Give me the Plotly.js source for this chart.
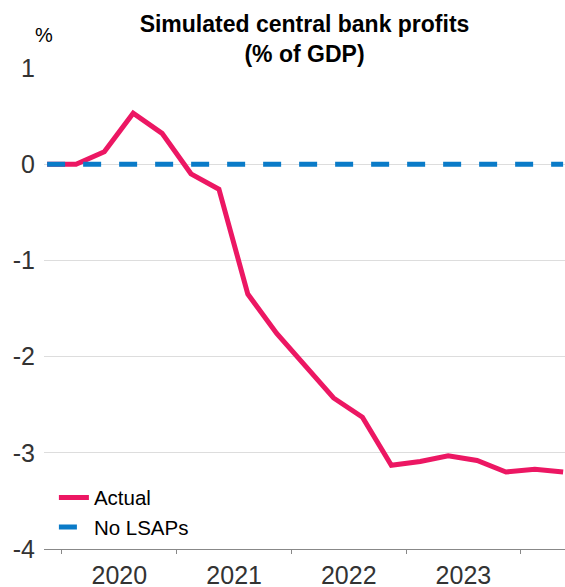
<!DOCTYPE html>
<html>
<head>
<meta charset="utf-8">
<script src="https://cdn.plot.ly/plotly-3.0.1.min.js"></script>
<style>html,body{margin:0;padding:0;background:#fff;}#chart{width:565px;height:587px;}</style>
</head>
<body>
<div id="chart"></div>
<script>
// Quarterly observations (mid-quarter dates), 2019 Q4 to 2024 Q2
const quarters = ["2019-11-15","2020-02-15","2020-05-15","2020-08-15","2020-11-15",
  "2021-02-15","2021-05-15","2021-08-15","2021-11-15",
  "2022-02-15","2022-05-15","2022-08-15","2022-11-15",
  "2023-02-15","2023-05-15","2023-08-15","2023-11-15",
  "2024-02-15","2024-05-15"];
const actual = [0, 0.0, 0.13, 0.53, 0.32, -0.10, -0.26, -1.35, -1.76, -2.10, -2.43, -2.63,
  -3.13, -3.09, -3.03, -3.08, -3.20, -3.17, -3.20];
const noLSAPs = [0,0,0,0,0,0,0,0,0,0,0,0,0,0,0,0,0,0,0];
const yTicks = [1, 0, -1, -2, -3, -4];
const firstYearTick = "2020-01-01";

const FONT = "Liberation Sans, Arial, sans-serif";

const traces = [
  {x: quarters, y: actual, name: "Actual", type: "scatter", mode: "lines",
   line: {color: "#EC1763", width: 5}},
  {x: quarters, y: noLSAPs, name: "No LSAPs", type: "scatter", mode: "lines",
   line: {color: "#0A7BC8", width: 5, dash: "18px,18px"}}
];

const layout = {
  width: 565, height: 587,
  margin: {l: 44, r: 0, t: 68, b: 38},
  paper_bgcolor: "#fff", plot_bgcolor: "#fff",
  font: {family: FONT, color: "#333"},
  title: {text: "<b>Simulated central bank profits<br>(% of GDP)</b>",
    font: {family: FONT, size: 23, color: "#000"},
    xref: "paper", x: 0.5, xanchor: "center",
    yref: "container", y: 0.946, yanchor: "top"},
  showlegend: true,
  legend: {x: 0.019, y: 0.003, xanchor: "left", yanchor: "bottom",
    bgcolor: "rgba(0,0,0,0)", font: {family: FONT, size: 20.5, color: "#000"},
    tracegroupgap: 0, itemwidth: 30},
  xaxis: {type: "date", range: ["2019-11-05", "2024-05-21"],
    tick0: firstYearTick, dtick: "M12", tickformat: "%Y", ticklabelmode: "period",
    showgrid: false, zeroline: false,
    showline: true, linecolor: "#888", linewidth: 1,
    ticks: "outside", ticklen: 4, tickcolor: "#888",
    tickfont: {family: FONT, size: 25, color: "#333"},
    ticklabelstandoff: 0},
  yaxis: {range: [-4, 1], tickvals: yTicks, ticktext: yTicks.map(String),
    showgrid: true, gridcolor: "#DDDDDD", gridwidth: 1,
    zeroline: false, showline: false, ticks: "",
    tickfont: {family: FONT, size: 25, color: "#333"},
    ticklabelstandoff: 8},
  annotations: [{text: "%", xref: "paper", yref: "paper", x: 0, y: 1,
    xanchor: "center", yanchor: "bottom", yshift: 20, showarrow: false,
    font: {family: FONT, size: 20, color: "#000"}}]
};

Plotly.newPlot("chart", traces, layout, {displayModeBar: false, staticPlot: true});
</script>
</body>
</html>
